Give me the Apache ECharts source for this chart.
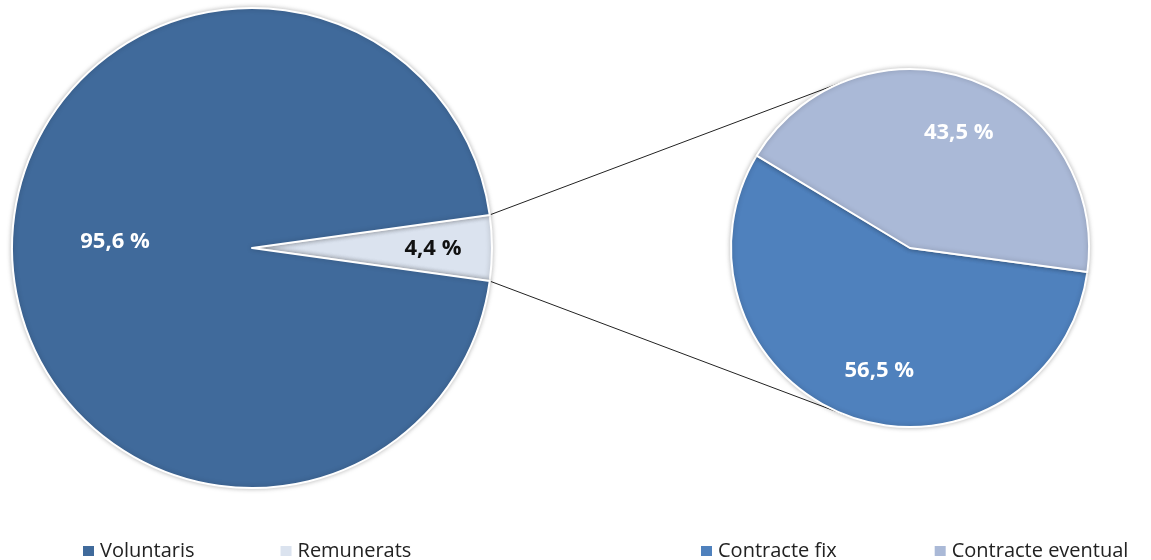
<!DOCTYPE html>
<html>
<head>
<meta charset="utf-8">
<script src="https://cdn.jsdelivr.net/npm/echarts@6/dist/echarts.min.js"></script>
<style>
  html, body { margin: 0; padding: 0; background: #fff; }
  #chart { width: 1151px; height: 560px; }
</style>
</head>
<body>
<div id="chart"></div>
<script>
  // main pie
  const mainNames = ['Remunerats', 'Voluntaris']
  const mainValues = [4.4, 95.6]
  // breakdown of "Remunerats"
  const subNames = ['Contracte fix', 'Contracte eventual']
  const subValues = [56.5, 43.5]

  const mainColors = ['#DBE3EF', '#406A9B']
  const subColors = ['#4F81BD', '#AAB9D7']

  // layout
  const bigC = [252, 248], bigR = 240
  const smallC = [910, 248], smallR = 179

  const fmt = v => v.toFixed(1).replace('.', ',') + ' %'
  const labelFont = { fontFamily: 'Open Sans', fontWeight: 'bold', fontSize: 22 }

  // slice of interest is centred on the right side
  const bigStart = mainValues[0] / 100 * 360 / 2
  const subStart = 352.3

  const chartDom = document.getElementById('chart')
  const myChart = echarts.init(chartDom, null, { renderer: 'canvas' })

  const mainOffsets = [[58, 1], [-14, -6]]
  const subOffsets = [[0, 35], [18, -28]]

  // connector lines: from slice edges tangent to small pie
  const tangent = (p, sign) => {
    const dx = p[0] - smallC[0], dy = p[1] - smallC[1]
    const d = Math.hypot(dx, dy)
    const a = Math.atan2(dy, dx) + sign * Math.acos(smallR / d)
    return [smallC[0] + smallR * Math.cos(a), smallC[1] + smallR * Math.sin(a)]
  }
  const rad = bigStart * Math.PI / 180
  const pTop = [bigC[0] + bigR * Math.cos(rad), bigC[1] - bigR * Math.sin(rad)]
  const pBot = [bigC[0] + bigR * Math.cos(rad), bigC[1] + bigR * Math.sin(rad)]
  const tTop = tangent(pTop, 1)
  const tBot = tangent(pBot, -1)

  const legendText = { fontFamily: 'Open Sans', fontSize: 20, color: '#222' }

  const option = {
    animation: false,
    legend: [
      {
        data: ['Voluntaris', 'Remunerats'],
        left: 76,
        top: 536,
        itemWidth: 13,
        itemHeight: 12,
        itemGap: 84,
        icon: 'rect',
        textStyle: legendText
      },
      {
        data: ['Contracte fix', 'Contracte eventual'],
        left: 694,
        top: 536,
        itemWidth: 13,
        itemHeight: 12,
        itemGap: 96,
        icon: 'rect',
        textStyle: legendText
      }
    ],
    graphic: [
      {
        type: 'line',
        shape: { x1: pTop[0], y1: pTop[1], x2: tTop[0], y2: tTop[1] },
        style: { stroke: '#222', lineWidth: 1 }
      },
      {
        type: 'line',
        shape: { x1: pBot[0], y1: pBot[1], x2: tBot[0], y2: tBot[1] },
        style: { stroke: '#222', lineWidth: 1 }
      }
    ],
    series: [
      {
        type: 'pie',
        center: bigC,
        radius: bigR,
        startAngle: bigStart,
        clockwise: true,
        avoidLabelOverlap: false,
        itemStyle: {
          borderColor: '#fff',
          borderWidth: 2,
          shadowBlur: 5,
          shadowColor: 'rgba(0,0,0,0.25)'
        },
        label: { position: 'inside', formatter: p => fmt(p.value), ...labelFont },
        labelLine: { show: false },
        emphasis: { disabled: true },
        data: mainNames.map((n, i) => ({
          name: n,
          value: mainValues[i],
          itemStyle: { color: mainColors[i] },
          label: { color: i === 0 ? '#111' : '#fff', offset: mainOffsets[i] }
        }))
      },
      {
        type: 'pie',
        center: smallC,
        radius: smallR,
        startAngle: subStart,
        clockwise: true,
        avoidLabelOverlap: false,
        itemStyle: {
          borderColor: '#fff',
          borderWidth: 2,
          shadowBlur: 5,
          shadowColor: 'rgba(0,0,0,0.25)'
        },
        label: { position: 'inside', formatter: p => fmt(p.value), color: '#fff', ...labelFont },
        labelLine: { show: false },
        emphasis: { disabled: true },
        data: subNames.map((n, i) => ({
          name: n,
          value: subValues[i],
          itemStyle: { color: subColors[i] },
          label: { offset: subOffsets[i] }
        }))
      }
    ]
  }
  myChart.setOption(option)
</script>
</body>
</html>
